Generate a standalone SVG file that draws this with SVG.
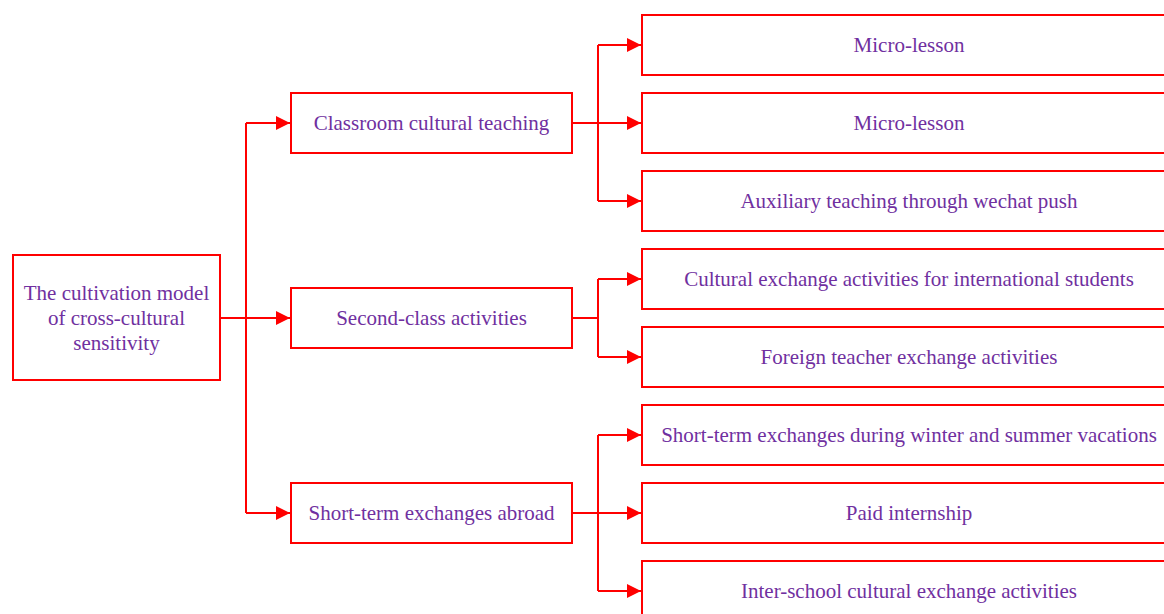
<svg xmlns="http://www.w3.org/2000/svg" width="1164" height="614" viewBox="0 0 1164 614">
<style>
.box{fill:#fff;stroke:#ff0000;stroke-width:2}
.t{font-family:"Liberation Serif",serif;font-size:21px;fill:#7030a0;text-anchor:middle;dominant-baseline:central}
.c{fill:none;stroke:#ff0000;stroke-width:2}
</style>
<defs>
<marker id="ah" viewBox="0 0 10 10" refX="10" refY="5" markerWidth="14" markerHeight="14" markerUnits="userSpaceOnUse" orient="auto">
<path d="M0,0 L10,5 L0,10 Z" fill="#ff0000"/>
</marker>
</defs>
<g id="connectors">
<path class="c" d="M220,318 H246"/>
<path class="c" d="M246,123 V513"/>
<path class="c" d="M246,123 H290" marker-end="url(#ah)"/>
<path class="c" d="M246,318 H290" marker-end="url(#ah)"/>
<path class="c" d="M246,513 H290" marker-end="url(#ah)"/>
<path class="c" d="M572,123 H598 M598,45 V201"/>
<path class="c" d="M598,45 H641" marker-end="url(#ah)"/>
<path class="c" d="M598,123 H641" marker-end="url(#ah)"/>
<path class="c" d="M598,201 H641" marker-end="url(#ah)"/>
<path class="c" d="M572,318 H598 M598,279 V357"/>
<path class="c" d="M598,279 H641" marker-end="url(#ah)"/>
<path class="c" d="M598,357 H641" marker-end="url(#ah)"/>
<path class="c" d="M572,513 H598 M598,435 V591"/>
<path class="c" d="M598,435 H641" marker-end="url(#ah)"/>
<path class="c" d="M598,513 H641" marker-end="url(#ah)"/>
<path class="c" d="M598,591 H641" marker-end="url(#ah)"/>
</g>
<g id="root"><rect class="box" x="13" y="255" width="207" height="125"/>
<text class="t" x="116.5" y="293">The cultivation model</text>
<text class="t" x="116.5" y="318">of cross-cultural</text>
<text class="t" x="116.5" y="343">sensitivity</text></g>
<g id="classroom"><rect class="box" x="291" y="93" width="281" height="60"/><text class="t" x="431.5" y="123">Classroom cultural teaching</text></g>
<g id="second"><rect class="box" x="291" y="288" width="281" height="60"/><text class="t" x="431.5" y="318">Second-class activities</text></g>
<g id="short"><rect class="box" x="291" y="483" width="281" height="60"/><text class="t" x="431.5" y="513">Short-term exchanges abroad</text></g>
<g id="r1"><rect class="box" x="642" y="15" width="534" height="60"/><text class="t" x="909" y="45">Micro-lesson</text></g>
<g id="r2"><rect class="box" x="642" y="93" width="534" height="60"/><text class="t" x="909" y="123">Micro-lesson</text></g>
<g id="r3"><rect class="box" x="642" y="171" width="534" height="60"/><text class="t" x="909" y="201">Auxiliary teaching through wechat push</text></g>
<g id="r4"><rect class="box" x="642" y="249" width="534" height="60"/><text class="t" x="909" y="279">Cultural exchange activities for international students</text></g>
<g id="r5"><rect class="box" x="642" y="327" width="534" height="60"/><text class="t" x="909" y="357">Foreign teacher exchange activities</text></g>
<g id="r6"><rect class="box" x="642" y="405" width="534" height="60"/><text class="t" x="909" y="435">Short-term exchanges during winter and summer vacations</text></g>
<g id="r7"><rect class="box" x="642" y="483" width="534" height="60"/><text class="t" x="909" y="513">Paid internship</text></g>
<g id="r8"><rect class="box" x="642" y="561" width="534" height="60"/><text class="t" x="909" y="591">Inter-school cultural exchange activities</text></g>
</svg>
